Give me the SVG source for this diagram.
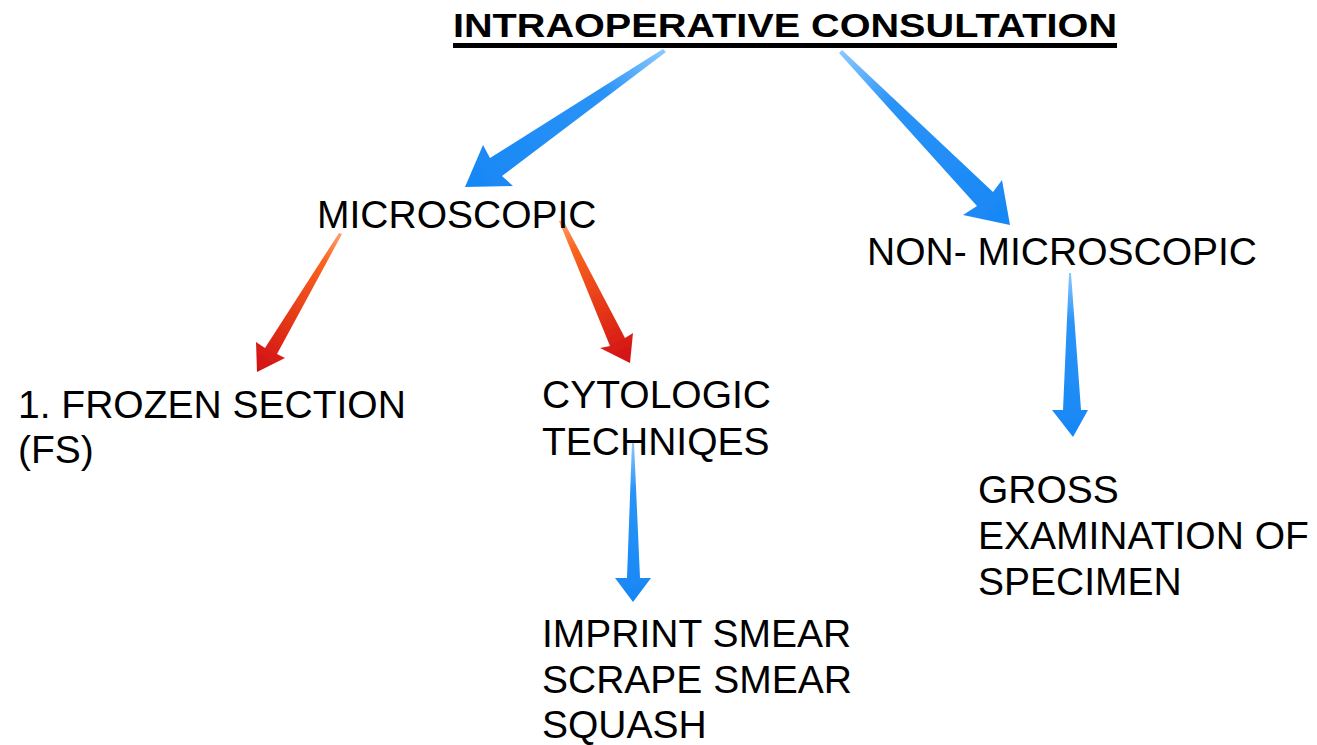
<svg xmlns="http://www.w3.org/2000/svg" width="1317" height="745" viewBox="0 0 1317 745">
<style>
text{font-family:"Liberation Sans",Arial,sans-serif;font-size:39px;fill:#000}
.title{font-weight:bold;font-size:33px}
.arr{filter:url(#soft)}
</style>
<defs>
<filter id="soft" x="-10%" y="-10%" width="120%" height="120%"><feGaussianBlur stdDeviation="0.6"/></filter>
<linearGradient id="gb1" gradientUnits="userSpaceOnUse" x1="664" y1="50" x2="465" y2="187"><stop offset="0" stop-color="#8cc8ff"/><stop offset="0.3" stop-color="#2a93f7"/><stop offset="1" stop-color="#1787f5"/></linearGradient>
<linearGradient id="gb2" gradientUnits="userSpaceOnUse" x1="841" y1="51" x2="1010" y2="225"><stop offset="0" stop-color="#8cc8ff"/><stop offset="0.3" stop-color="#2a93f7"/><stop offset="1" stop-color="#1787f5"/></linearGradient>
<linearGradient id="gb5" gradientUnits="userSpaceOnUse" x1="633" y1="442" x2="633" y2="602"><stop offset="0" stop-color="#8cc8ff"/><stop offset="0.3" stop-color="#2a93f7"/><stop offset="1" stop-color="#1787f5"/></linearGradient>
<linearGradient id="gb6" gradientUnits="userSpaceOnUse" x1="1070" y1="273" x2="1073" y2="437"><stop offset="0" stop-color="#8cc8ff"/><stop offset="0.3" stop-color="#2a93f7"/><stop offset="1" stop-color="#1787f5"/></linearGradient>
<linearGradient id="gr3" gradientUnits="userSpaceOnUse" x1="340" y1="233" x2="257" y2="372"><stop offset="0" stop-color="#ffa070"/><stop offset="0.2" stop-color="#f9641e"/><stop offset="1" stop-color="#d20f14"/></linearGradient>
<linearGradient id="gr4" gradientUnits="userSpaceOnUse" x1="561" y1="220" x2="630" y2="363"><stop offset="0" stop-color="#ffa070"/><stop offset="0.2" stop-color="#f9641e"/><stop offset="1" stop-color="#d20f14"/></linearGradient>
</defs>
<g id="connectors">
<polygon class="arr" fill="url(#gb1)" points="663,49 490,158 483,145 465,187 513,186 502,176 666,52"/>
<polygon class="arr" fill="url(#gb2)" points="842,50 993,192 1002,180 1010,225 963,215 977,206 839,53"/>
<polygon class="arr" fill="url(#gr3)" points="339,233 265,348 256,342 257,372 285,358 277,354 342,234"/>
<polygon class="arr" fill="url(#gr4)" points="559,221 610,346 600,348 630,363 633,333 625,338 563,220"/>
<polygon class="arr" fill="url(#gb5)" points="632,442 627,578 615,578 633,602 651,578 640,578 634,442"/>
<polygon class="arr" fill="url(#gb6)" points="1069,273 1063,410 1052,410 1073,437 1088,410 1081,410 1071,273"/>
</g>
<g id="title">
<text class="title" x="453" y="37" textLength="664" lengthAdjust="spacingAndGlyphs">INTRAOPERATIVE CONSULTATION</text>
<rect x="453" y="43" width="664" height="5" fill="#000"/>
</g>
<g id="microscopic"><text x="317" y="228">MICROSCOPIC</text></g>
<g id="non-microscopic"><text x="867" y="265">NON- MICROSCOPIC</text></g>
<g id="frozen-section"><text x="18" y="418">1. FROZEN SECTION</text><text x="18" y="463">(FS)</text></g>
<g id="cytologic"><text x="542" y="408">CYTOLOGIC</text><text x="542" y="455">TECHNIQES</text></g>
<g id="smears"><text x="542" y="647">IMPRINT SMEAR</text><text x="542" y="693">SCRAPE SMEAR</text><text x="542" y="738">SQUASH</text></g>
<g id="gross"><text x="978" y="503">GROSS</text><text x="978" y="549">EXAMINATION OF</text><text x="978" y="595">SPECIMEN</text></g>
</svg>
